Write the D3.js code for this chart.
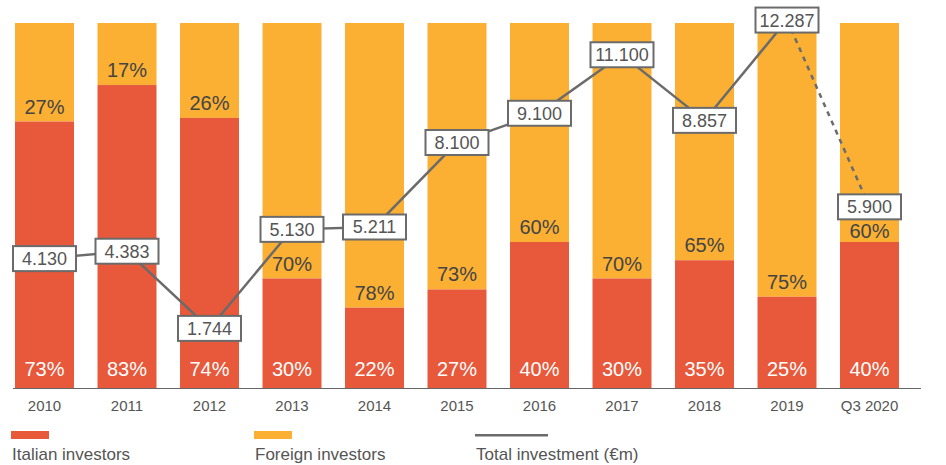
<!DOCTYPE html>
<html lang="en">
<head>
    <meta charset="UTF-8">
    <title>Italian real estate investment</title>
    <script src="https://cdn.jsdelivr.net/npm/d3@7"></script>
    <style>
        body { margin: 0; background: #fff; }
        text { font-family: "Liberation Sans", Arial, sans-serif; }
    </style>
</head>
<body>
    <script>
        // data
        const years = ["2010", "2011", "2012", "2013", "2014", "2015", "2016", "2017", "2018", "2019", "Q3 2020"];
        const italian = [73, 83, 74, 30, 22, 27, 40, 30, 35, 25, 40];
        const foreign = [27, 17, 26, 70, 78, 73, 60, 70, 65, 75, 60];
        const total = [4130, 4383, 1744, 5130, 5211, 8100, 9100, 11100, 8857, 12287, 5900]; // €m

        const width = 946, height = 465;
        const red = "#E8583A", yellow = "#FBB034", grey = "#6b6b6b";

        const svg = d3.select("body").append("svg")
            .attr("width", width)
            .attr("height", height);

        const x = d3.scaleBand()
            .domain(years)
            .range([3.25, 910.75])
            .paddingInner(0.285)
            .paddingOuter(0.1425);

        const yPct = d3.scaleLinear().domain([0, 100]).range([388, 23]);
        const yVal = d3.scaleLinear().domain([0, 13000]).range([379.4, -0.8]);

        const itFmt = d3.formatLocale({ decimal: ",", thousands: ".", grouping: [3], currency: ["€", ""] }).format(",");

        const rows = years.map((yr, i) => ({ yr, it: italian[i], fo: foreign[i], tot: total[i] }));

        // bars
        const bar = svg.selectAll(".bar").data(rows).enter().append("g").attr("class", "bar");
        bar.append("rect")
            .attr("x", d => x(d.yr))
            .attr("width", x.bandwidth())
            .attr("y", d => yPct(100))
            .attr("height", d => yPct(d.it) - yPct(100))
            .attr("fill", yellow);
        bar.append("rect")
            .attr("x", d => x(d.yr))
            .attr("width", x.bandwidth())
            .attr("y", d => yPct(d.it))
            .attr("height", d => yPct(0) - yPct(d.it))
            .attr("fill", red);

        const cx = d => x(d.yr) + x.bandwidth() / 2;

        bar.append("text")
            .attr("x", cx)
            .attr("y", 376)
            .attr("text-anchor", "middle")
            .attr("fill", "#fff")
            .attr("font-size", 20)
            .text(d => d.it + "%");
        // foreign share sits just above the red part, pushed down if a value box is in the way
        bar.append("text")
            .attr("x", cx)
            .attr("y", d => {
                let ty = yPct(d.it) - 8;
                const by = yVal(d.tot);
                if (by < ty) ty = Math.max(ty, by + 12.5 + 19);
                return ty;
            })
            .attr("text-anchor", "middle")
            .attr("fill", "#444")
            .attr("font-size", 20)
            .text(d => d.fo + "%");

        // x axis
        svg.append("line")
            .attr("x1", 13).attr("x2", 921)
            .attr("y1", 388.5).attr("y2", 388.5)
            .attr("stroke", "#666").attr("stroke-width", 1.2);
        svg.selectAll(".tick").data(years).enter().append("text")
            .attr("x", d => x(d) + x.bandwidth() / 2)
            .attr("y", 411)
            .attr("text-anchor", "middle")
            .attr("fill", "#555")
            .attr("font-size", 15)
            .text(d => d);

        // total investment line
        const solid = rows.slice(0, rows.length - 1);
        const dashed = rows.slice(rows.length - 2);
        const line = d3.line().x(cx).y(d => yVal(d.tot));
        svg.append("path").datum(solid)
            .attr("d", line).attr("fill", "none")
            .attr("stroke", grey).attr("stroke-width", 2.5);
        svg.append("path").datum(dashed)
            .attr("d", line).attr("fill", "none")
            .attr("stroke", grey).attr("stroke-width", 2.5)
            .attr("stroke-dasharray", "5,5");

        const box = svg.selectAll(".box").data(rows).enter().append("g")
            .attr("transform", d => `translate(${cx(d)},${yVal(d.tot)})`);
        box.append("rect")
            .attr("x", -31.5).attr("y", -12.5)
            .attr("width", 63).attr("height", 25)
            .attr("fill", "#fff")
            .attr("stroke", grey).attr("stroke-width", 2);
        box.append("text")
            .attr("y", 6.5)
            .attr("text-anchor", "middle")
            .attr("fill", "#555")
            .attr("font-size", 18)
            .text(d => itFmt(d.tot));

        // legend
        const legend = [
            { label: "Italian investors", x: 11, type: "bar", color: red },
            { label: "Foreign investors", x: 254, type: "bar", color: yellow },
            { label: "Total investment (€m)", x: 475, type: "line", color: grey }
        ];
        const lg = svg.selectAll(".legend").data(legend).enter().append("g");
        lg.append("rect")
            .attr("x", d => d.x)
            .attr("y", d => d.type === "bar" ? 431 : 434)
            .attr("width", d => d.type === "bar" ? 38 : 73)
            .attr("height", d => d.type === "bar" ? 8 : 2.5)
            .attr("fill", d => d.color);
        lg.append("text")
            .attr("x", d => d.x + 1)
            .attr("y", 460)
            .attr("fill", "#555")
            .attr("font-size", 17)
            .text(d => d.label);
    </script>
</body>
</html>
